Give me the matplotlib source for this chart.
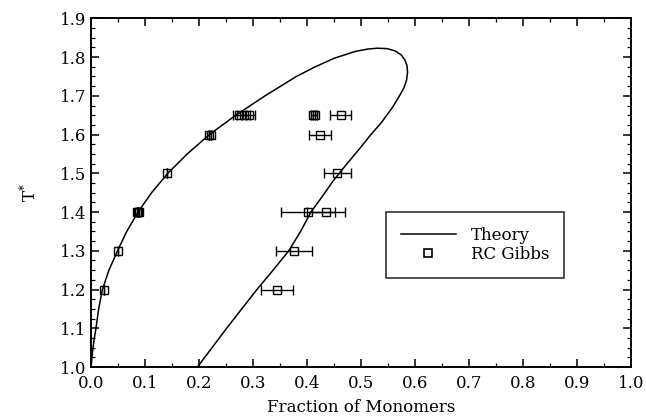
import matplotlib
matplotlib.use("Agg")
import matplotlib.pyplot as plt
from matplotlib.lines import Line2D
from matplotlib.ticker import MultipleLocator, FormatStrFormatter

plt.rcParams['font.family'] = ['DejaVu Serif']
plt.rcParams['mathtext.fontset'] = 'dejavuserif'

# theory coexistence curve (left branch, over the top, right branch)
theory_x = [0.000, 0.002, 0.005, 0.009, 0.014, 0.021, 0.033, 0.049, 0.066, 0.087,
            0.112, 0.142, 0.178, 0.219, 0.268, 0.322, 0.380, 0.415, 0.450, 0.490,
            0.513, 0.530, 0.548, 0.563, 0.574, 0.581, 0.585, 0.586, 0.584, 0.579,
            0.571, 0.558, 0.537, 0.518, 0.495, 0.471, 0.448, 0.428, 0.407, 0.388,
            0.366, 0.337, 0.307, 0.279, 0.251, 0.224, 0.197]
theory_t = [1.00, 1.03, 1.065, 1.10, 1.15, 1.20, 1.25, 1.30, 1.35, 1.40,
            1.45, 1.50, 1.55, 1.60, 1.65, 1.70, 1.75, 1.775, 1.797, 1.815,
            1.821, 1.823, 1.822, 1.816, 1.806, 1.793, 1.778, 1.76, 1.74, 1.72,
            1.70, 1.67, 1.63, 1.60, 1.56, 1.52, 1.48, 1.44, 1.40, 1.35,
            1.30, 1.25, 1.20, 1.15, 1.10, 1.05, 1.00]

# RC Gibbs simulation points
gibbs_x = [0.023, 0.050, 0.085, 0.087, 0.089, 0.141, 0.219, 0.222,
           0.274, 0.283, 0.292, 0.411, 0.414, 0.462,
           0.424, 0.456, 0.401, 0.435, 0.376, 0.344]
gibbs_t = [1.2, 1.3, 1.4, 1.4, 1.4, 1.5, 1.6, 1.6,
           1.65, 1.65, 1.65, 1.65, 1.65, 1.65,
           1.6, 1.5, 1.4, 1.4, 1.3, 1.2]
gibbs_xerr = [0.0, 0.0, 0.0, 0.0, 0.0, 0.0, 0.0, 0.0,
              0.012, 0.012, 0.012, 0.004, 0.004, 0.020,
              0.021, 0.025, 0.050, 0.036, 0.033, 0.030]

fig = plt.figure(figsize=(6.46, 4.18), dpi=100)
ax = fig.add_axes([0.141, 0.122, 0.836, 0.834])

ax.plot(theory_x, theory_t, color='black', linewidth=1.1)
ax.errorbar(gibbs_x, gibbs_t, xerr=gibbs_xerr, fmt='s', markersize=6,
            markerfacecolor='none', markeredgecolor='black', markeredgewidth=1.0,
            ecolor='black', elinewidth=1.0, capsize=3.5, capthick=1.0)

ax.set_xlim(0.0, 1.0)
ax.set_ylim(1.0, 1.9)
ax.xaxis.set_major_locator(MultipleLocator(0.1))
ax.xaxis.set_minor_locator(MultipleLocator(0.05))
ax.yaxis.set_major_locator(MultipleLocator(0.1))
ax.yaxis.set_minor_locator(MultipleLocator(0.025))
ax.xaxis.set_major_formatter(FormatStrFormatter('%.1f'))
ax.yaxis.set_major_formatter(FormatStrFormatter('%.1f'))
ax.tick_params(which='both', direction='in', top=True, right=True, labelsize=12)
ax.tick_params(which='major', length=6, width=1.1)
ax.tick_params(axis='x', which='major', pad=6)
ax.tick_params(which='minor', length=3, width=0.9)
for s in ax.spines.values():
    s.set_linewidth(1.4)

ax.set_xlabel("Fraction of Monomers", fontsize=12, labelpad=5)
ax.set_ylabel(r"T$^{*}$", fontsize=12, labelpad=14)

handles = [Line2D([], [], color='black', linewidth=1.1),
           Line2D([], [], marker='s', linestyle='none', markersize=5.5,
                  markerfacecolor='none', markeredgecolor='black', markeredgewidth=1.2)]
leg = ax.legend(handles, ["Theory", "RC Gibbs"], loc='upper left',
                bbox_to_anchor=(0.546, 0.445), fontsize=12, frameon=True,
                fancybox=False, edgecolor='black', handlelength=3.3,
                borderpad=0.9, labelspacing=0.1, handletextpad=0.9,
                borderaxespad=0.0)
leg.get_frame().set_linewidth(1.2)

fig.savefig("out.png", dpi=100)
